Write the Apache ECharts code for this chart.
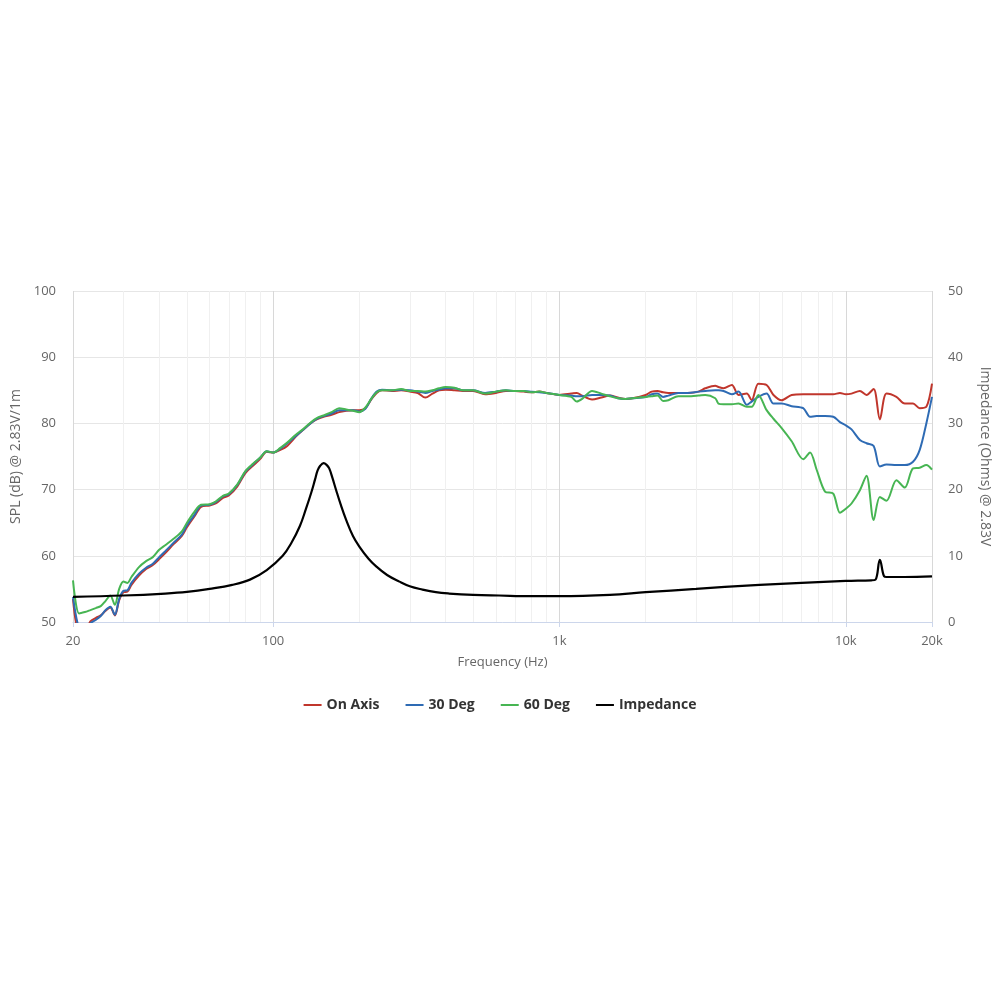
<!DOCTYPE html>
<html>
<head>
<meta charset="utf-8">
<script src="https://cdn.jsdelivr.net/npm/echarts@6/dist/echarts.min.js"></script>
<style>
html,body{margin:0;padding:0;background:#fff;}
#chart{width:1000px;height:1000px;}
</style>
</head>
<body>
<div id="chart"></div>
<script>
// Frequencies (Hz) shared by the three SPL curves
var freq = [20,21,22,23,24,25,26,27,28,29,30,31,32,34,36,38,40,42,45,48,50,53,56,60,63,67,70,75,80,85,90,95,
  100,106,112,120,127,135,142,150,160,170,180,190,200,210,220,230,240,260,280,300,320,340,360,380,400,430,460,500,
  550,600,650,700,750,800,850,900,1000,1100,1150,1200,1300,1400,1500,1600,1700,1800,2000,2100,2200,2300,2400,2600,
  2800,3060,3230,3500,3590,3740,4000,4220,4510,4690,4950,5290,5590,5970,6470,7100,7500,7910,8460,9040,9540,10000,
  10470,11200,11810,12510,13150,13870,15020,16070,17170,18120,19110,20000];

var onAxis = [53.5,48.5,48.5,50.1,50.6,51.0,51.7,52.2,51.0,53.3,54.5,54.6,55.6,57.0,58.0,58.6,59.5,60.4,61.8,63.0,64.3,65.9,67.4,67.6,67.9,68.8,69.1,70.5,72.5,73.6,74.6,75.7,
  75.6,76.0,76.6,78.0,79.0,80.0,80.6,81.0,81.3,81.7,81.9,82.0,82.0,82.3,83.6,84.6,85.0,84.9,85.0,84.8,84.6,83.9,84.5,85.0,85.1,85.0,84.9,84.9,
  84.4,84.6,84.9,84.9,84.8,84.7,84.8,84.6,84.3,84.5,84.6,84.2,83.6,83.9,84.2,83.9,83.7,83.8,84.3,84.8,84.9,84.7,84.6,84.6,
  84.6,84.8,85.3,85.7,85.5,85.3,85.8,84.3,84.5,83.5,86.0,85.8,84.3,83.5,84.3,84.4,84.4,84.4,84.4,84.4,84.6,84.4,
  84.5,84.9,84.3,85.2,80.6,84.5,84.0,83.0,83.0,82.3,82.5,86.0];

var deg30 = [53.8,49.0,48.5,49.8,50.3,50.9,51.8,52.3,51.1,53.5,54.7,54.8,55.9,57.3,58.2,58.8,59.8,60.7,62.0,63.2,64.6,66.1,67.6,67.7,68.1,69.0,69.3,70.7,72.7,73.8,74.8,75.8,
  75.6,76.2,77.0,78.1,79.0,80.0,80.7,81.1,81.5,82.0,82.0,82.0,81.8,82.2,83.7,84.8,85.1,85.0,85.1,85.0,84.8,84.6,84.9,85.1,85.3,85.3,85.0,85.0,
  84.6,84.8,85.0,84.9,84.9,84.8,84.7,84.6,84.3,84.2,84.1,84.1,84.3,84.3,84.2,83.8,83.7,83.8,84.0,84.4,84.5,84.0,84.2,84.6,
  84.6,84.8,84.9,85.0,85.0,84.9,84.4,84.8,82.8,83.3,84.0,84.5,83.0,83.0,82.6,82.3,81.0,81.1,81.1,81.0,80.2,79.7,
  79.1,77.5,77.0,76.6,73.5,73.8,73.7,73.7,74.2,76.0,80.0,84.0];

var deg60 = [56.3,51.3,51.5,51.8,52.1,52.4,53.2,54.0,52.6,55.0,56.1,55.9,56.8,58.3,59.2,59.8,60.9,61.6,62.6,63.7,65.0,66.6,67.7,67.8,68.2,69.1,69.4,70.8,72.8,73.9,74.8,75.8,
  75.6,76.3,77.1,78.3,79.1,80.1,80.8,81.2,81.7,82.3,82.1,81.9,81.7,82.4,83.7,84.7,85.0,85.0,85.2,84.9,84.9,84.8,85.0,85.3,85.5,85.4,85.0,85.0,
  84.5,84.8,85.0,84.9,84.9,84.7,84.8,84.6,84.3,84.0,83.3,83.7,84.9,84.5,84.1,83.8,83.7,83.8,84.0,84.1,84.2,83.4,83.5,84.1,
  84.1,84.2,84.3,83.8,83.0,82.9,82.9,83.0,82.5,82.5,84.3,82.0,80.7,79.3,77.3,74.6,75.6,73.0,69.7,69.4,66.5,67.1,
  67.9,69.9,72.1,65.4,68.9,68.3,71.4,70.3,73.2,73.3,73.7,73.0];

// Impedance curve (Ohms)
var impFreq = [20,30,42,50,60,72,83,95,108,116,124,130,136,140,143,146,150,154,157,161,166,172,180,190,200,215,229,250,276,300,332,370,412,500,
  615,800,1000,1500,2000,3000,3780,5000,7000,10000,12290,12700,13150,13600,13870,16000,20000];
var impedance = [3.8,4.0,4.3,4.55,5.0,5.6,6.4,7.85,10.0,12.0,14.5,17.0,19.6,21.5,22.9,23.6,24.0,23.7,23.2,21.8,19.9,17.8,15.4,13.0,11.4,9.6,8.4,7.1,6.1,5.4,4.9,4.5,4.3,4.1,
  4.0,3.9,3.9,4.1,4.5,5.0,5.3,5.6,5.9,6.2,6.3,6.4,9.4,6.9,6.8,6.8,6.9];

// Minor frequency grid positions and axis ticks
var minorFreq = [30,40,50,60,70,80,90,200,300,400,500,600,700,800,900,2000,3000,4000,5000,6000,7000,8000,9000];
var splTicks = [50,60,70,80,90,100];
var impTicks = [0,10,20,30,40,50];

function pairs(xs, ys){ return xs.map(function(x,i){ return [x, ys[i]]; }); }

var font = '"Open Sans", "Noto Sans", sans-serif';
var chart = echarts.init(document.getElementById('chart'), null, {renderer:'canvas'});

function lineSeries(name, color, xs, ys, yIdx, z, smooth, width){
  return {
    name: name, type: 'line', yAxisIndex: yIdx, data: pairs(xs, ys),
    showSymbol: false, symbol: 'none', smooth: smooth, z: z,
    lineStyle: {color: color, width: width}, itemStyle: {color: color},
    emphasis: {disabled: true}
  };
}

chart.setOption({
  animation: false,
  backgroundColor: '#fff',
  grid: {left: 73, right: 66, top: 291, bottom: 378, containLabel: false},
  legend: {
    data: ['On Axis','30 Deg','60 Deg','Impedance'],
    top: 693, left: 'center',
    icon: 'rect', itemWidth: 18, itemHeight: 2, itemGap: 26,
    textStyle: {fontFamily: font, fontSize: 14, fontWeight: 'bold', color: '#333'}
  },
  xAxis: {
    type: 'log', logBase: 10, min: 20, max: 20000,
    name: 'Frequency (Hz)', nameLocation: 'middle', nameGap: 34,
    nameTextStyle: {fontFamily: font, fontSize: 13, color: '#666'},
    axisLine: {show: true, lineStyle: {color: '#ccd6eb', width: 1}},
    axisTick: {show: true, length: 5, lineStyle: {color: '#ccd6eb'}},
    axisLabel: {
      fontFamily: font, fontSize: 13, color: '#666', margin: 13,
      showMinLabel: true, showMaxLabel: true,
      formatter: function(v){ v = Math.round(v); return v >= 1000 ? (v/1000) + 'k' : String(v); }
    },
    splitLine: {show: true, lineStyle: {color: '#d8d8d8', width: 1}}
  },
  yAxis: [{
    type: 'value', min: splTicks[0], max: splTicks[splTicks.length-1], interval: 10,
    name: 'SPL (dB) @ 2.83V/1m', nameLocation: 'middle', nameGap: 50, nameRotate: 90,
    nameTextStyle: {fontFamily: font, fontSize: 14, color: '#666'},
    axisLine: {show: false}, axisTick: {show: false},
    axisLabel: {fontFamily: font, fontSize: 13, color: '#666', margin: 17},
    splitLine: {show: true, lineStyle: {color: '#e6e6e6', width: 1}}
  },{
    type: 'value', min: impTicks[0], max: impTicks[impTicks.length-1], interval: 10,
    name: 'Impedance (Ohms) @ 2.83V', nameLocation: 'middle', nameGap: 46, nameRotate: -90,
    nameTextStyle: {fontFamily: font, fontSize: 14, color: '#666'},
    axisLine: {show: false}, axisTick: {show: false},
    axisLabel: {fontFamily: font, fontSize: 13, color: '#666', margin: 16},
    splitLine: {show: false}
  }],
  series: [
    {
      name: 'grid', type: 'line', data: [], z: 1, silent: true,
      markLine: {
        silent: true, symbol: ['none','none'], animation: false, z: 1,
        label: {show: false},
        lineStyle: {color: '#f0f0f0', width: 1, type: 'solid'},
        emphasis: {disabled: true},
        data: minorFreq.map(function(f){ return {xAxis: f}; })
      }
    },
    lineSeries('On Axis', '#c0362c', freq, onAxis, 0, 3, 0.3, 2),
    lineSeries('30 Deg', '#2e6bb4', freq, deg30, 0, 4, 0.3, 2),
    lineSeries('60 Deg', '#47b553', freq, deg60, 0, 5, 0.3, 2),
    lineSeries('Impedance', '#000000', impFreq, impedance, 1, 6, 0.4, 2.2)
  ]
});
</script>
</body>
</html>
